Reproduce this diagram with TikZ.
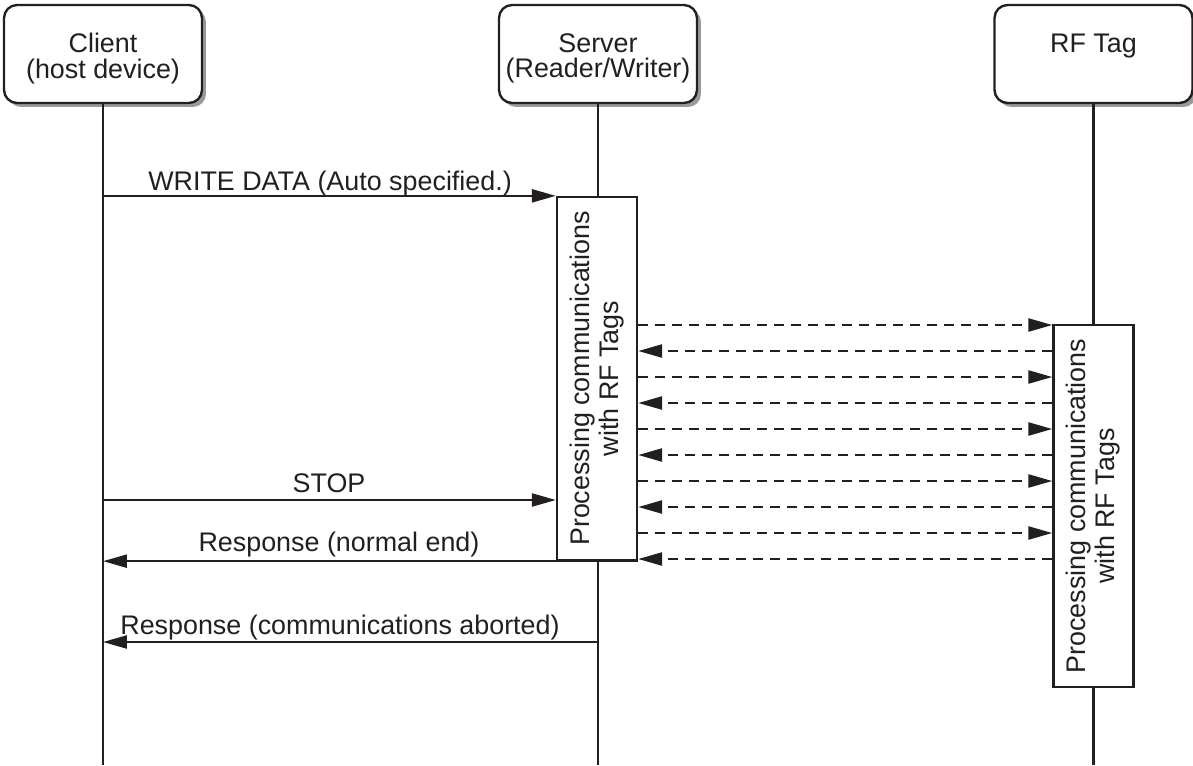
\documentclass[tikz,border=0pt]{standalone}
\usepackage{fontspec}
\setmainfont{Liberation Sans}
\usetikzlibrary{positioning,arrows.meta,shadows}
\definecolor{inkgray}{HTML}{231F20}
\definecolor{shadowgray}{HTML}{9A9A9A}
\tikzset{
  lifeline/.style={line width=1.35pt,draw=inkgray},
  actor/.style={rectangle,rounded corners=0.26cm,draw=inkgray,line width=1.35pt,fill=white,
                minimum width=3.96cm,minimum height=1.96cm,inner sep=0,
                drop shadow={shadow xshift=0.08cm,shadow yshift=-0.08cm,fill=shadowgray,opacity=1}},
  actorlabel/.style={align=center,font=\fontsize{15.3}{14.5}\selectfont,text=inkgray,inner sep=0},
  % activation bars on the lifelines
  activity/.style={rectangle,draw=inkgray,line width=1.35pt,fill=white,minimum width=1.6cm,inner sep=0},
  activitylabel/.style={rotate=90,align=center,font=\fontsize{15.3}{16.5}\selectfont,text=inkgray,inner sep=0},
  call/.style={-{Triangle[length=4.8mm,width=2.6mm]},line width=1.35pt,draw=inkgray},
  poll/.style={call,dash pattern=on 2mm off 1.4mm},
  msglabel/.style={font=\fontsize{15.3}{18}\selectfont,text=inkgray,anchor=base,inner sep=0},
}
\begin{document}
\begin{tikzpicture}[x=0.02cm,y=-0.02cm]
  \useasboundingbox (0,0) rectangle (1193,765);
  \coordinate (bottom) at (0,765);
  % the three parties
  \node[actor] (client) at (103,54) {};
  \node[actor] (server) at (598,54) {};
  \node[actor] (tag) at (1093.5,54) {};
  \node[actorlabel] (clientname) at (103,58.5) {Client\\(host device)};
  \node[actorlabel] (servername) at (598,58.5) {Server\\(Reader/Writer)};
  \node[actorlabel] (tagname) at (1093.5,46) {RF Tag};
  \foreach \p in {client,server,tag} { \draw[lifeline] (\p.south) -- (\p.south |- bottom); }
  % processing on the reader and on the tag
  \node[activity,minimum height=7.26cm] (srvact) at (597,378.5) {};
  \node[activitylabel] (srvtext) at (srvact) {Processing communications\\with RF Tags};
  \node[activity,minimum height=7.24cm] (tagact) at (1093.5,506) {};
  \node[activitylabel] (tagtext) at (tagact) {Processing communications\\with RF Tags};
  % host commands and responses
  \coordinate (stopy) at (0,500);
  \coordinate (aborty) at (0,642);
  \draw[call] (client.south |- srvact.north west) -- (srvact.north west);
  \node[msglabel] (writelbl) at (330,190) {WRITE DATA (Auto specified.)};
  \draw[call] (client.south |- stopy) -- (srvact.west |- stopy);
  \node[msglabel] (stoplbl) at (329,492) {STOP};
  \draw[call] (srvact.south east) -- (client.south |- srvact.south);
  \node[msglabel] (normallbl) at (339,551.5) {Response (normal end)};
  \draw[call] (server.south |- aborty) -- (client.south |- aborty);
  \node[msglabel] (abortlbl) at (340,634) {Response (communications aborted)};
  % radio traffic between reader and tag
  \foreach \i in {0,...,4} {
    \pgfmathsetmacro\ya{325+52*\i}
    \pgfmathsetmacro\yb{351+52*\i}
    \draw[poll] (srvact.east |- 0,\ya) -- (tagact.west |- 0,\ya);
    \draw[poll] (tagact.west |- 0,\yb) -- (srvact.east |- 0,\yb);
  }
\end{tikzpicture}
\end{document}
